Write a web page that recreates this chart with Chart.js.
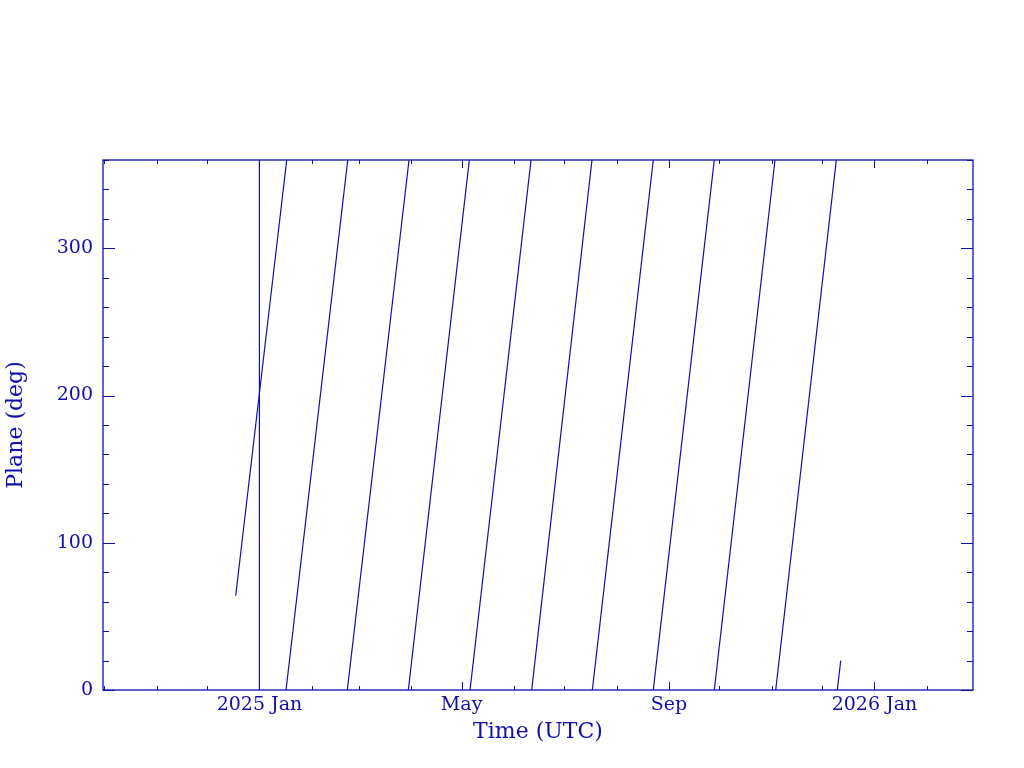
<!DOCTYPE html>
<html>
<head>
<meta charset="utf-8">
<style>
  html, body { margin: 0; padding: 0; background: #fff; }
  #wrap { width: 1024px; height: 768px; }
</style>
<script src="https://cdn.jsdelivr.net/npm/chart.js@4/dist/chart.umd.min.js"></script>
</head>
<body>
<div id="wrap"><canvas id="planeChart" width="1024" height="768"></canvas></div>
<script>
// Axis range and ticks
const xMin = "2024-09-30T04:00:00Z";
const xMax = "2026-02-28T12:00:00Z";
const monthTicks = [
  "2024-10-01", "2024-11-01", "2024-12-01", "2025-01-01", "2025-02-01", "2025-03-01",
  "2025-04-01", "2025-05-01", "2025-06-01", "2025-07-01", "2025-08-01", "2025-09-01",
  "2025-10-01", "2025-11-01", "2025-12-01", "2026-01-01", "2026-02-01"
];
const monthLabels = [
  "", "", "", "2025 Jan", "", "",
  "", "May", "", "", "", "Sep",
  "", "", "", "2026 Jan", ""
];
const yMin = 0;
const yMax = 360;
const yStep = 20;
const yLabelEvery = 100;

// Orbit plane angle, one straight run per wrap (start -> end)
const segStartTimes = [
  "2024-12-17T22:00Z", "2025-01-16T19:00Z", "2025-02-22T04:00Z", "2025-03-30T09:00Z",
  "2025-05-06T00:00Z", "2025-06-11T14:00Z", "2025-07-17T14:00Z", "2025-08-22T18:00Z",
  "2025-09-27T23:00Z", "2025-11-03T10:00Z", "2025-12-09T23:00Z"
];
const segStartDeg = [64, 0, 0, 0, 0, 0, 0, 0, 0, 0, 0];
const segEndTimes = [
  "2025-01-17T05:00Z", "2025-02-22T10:00Z", "2025-03-30T19:00Z", "2025-05-05T14:00Z",
  "2025-06-11T05:00Z", "2025-07-17T09:00Z", "2025-08-22T18:00Z", "2025-09-27T23:00Z",
  "2025-11-03T00:00Z", "2025-12-09T09:00Z", "2025-12-12T00:00Z"
];
const segEndDeg = [360, 360, 360, 360, 360, 360, 360, 360, 360, 360, 20];

// vertical marker
const markerTime = "2025-01-01T00:00Z";
const markerDeg = [0, 360];

const ink = "#1010a8";
const fontFam = "'DejaVu Serif', 'Liberation Serif', serif";

const datasets = segStartTimes.map((t, i) => ({
  data: [
    { x: Date.parse(t), y: segStartDeg[i] },
    { x: Date.parse(segEndTimes[i]), y: segEndDeg[i] }
  ],
  borderColor: ink,
  borderWidth: 1.2,
  pointRadius: 0,
  fill: false,
  tension: 0
}));
datasets.push({
  data: markerDeg.map(v => ({ x: Date.parse(markerTime), y: v })),
  borderColor: ink,
  borderWidth: 1.2,
  pointRadius: 0,
  fill: false
});

// PGPLOT-style frame with inward ticks on all four sides
const frameTicks = {
  id: "frameTicks",
  afterDatasetsDraw(chart) {
    const { ctx, chartArea: a, scales } = chart;
    ctx.save();
    ctx.strokeStyle = ink;
    ctx.lineWidth = 1.3;
    ctx.strokeRect(a.left, a.top, a.right - a.left, a.bottom - a.top);
    ctx.lineWidth = 1;
    ctx.beginPath();
    scales.x.ticks.forEach((t, i) => {
      const px = Math.round(scales.x.getPixelForValue(t.value)) + 0.5;
      const len = monthLabels[i] ? 8 : 4;
      ctx.moveTo(px, a.bottom); ctx.lineTo(px, a.bottom - len);
      ctx.moveTo(px, a.top); ctx.lineTo(px, a.top + len);
    });
    scales.y.ticks.forEach(t => {
      const py = Math.round(scales.y.getPixelForValue(t.value)) + 0.5;
      const len = t.value % yLabelEvery === 0 ? 12 : 6;
      ctx.moveTo(a.left, py); ctx.lineTo(a.left + len, py);
      ctx.moveTo(a.right, py); ctx.lineTo(a.right - len, py);
    });
    ctx.stroke();
    ctx.restore();
  }
};

new Chart(document.getElementById("planeChart"), {
  type: "line",
  data: { datasets },
  options: {
    responsive: false,
    animation: false,
    events: [],
    layout: { padding: { top: 160, right: 51, bottom: 0, left: 0 } },
    plugins: { legend: { display: false }, tooltip: { enabled: false } },
    scales: {
      x: {
        type: "linear",
        min: Date.parse(xMin),
        max: Date.parse(xMax),
        afterBuildTicks: s => { s.ticks = monthTicks.map(d => ({ value: Date.parse(d + "T00:00:00Z") })); },
        afterFit: s => { s.height = 78; },
        grid: { display: false, drawTicks: false },
        border: { display: false },
        ticks: {
          autoSkip: false,
          maxRotation: 0,
          padding: 4,
          color: ink,
          font: { family: fontFam, size: 19 },
          callback: (v, i) => monthLabels[i]
        },
        title: {
          display: true,
          text: "Time (UTC)",
          color: ink,
          font: { family: fontFam, size: 22 },
          padding: { top: 0, bottom: 23 }
        }
      },
      y: {
        min: yMin,
        max: yMax,
        afterFit: s => { s.width = 103; },
        grid: { display: false, drawTicks: false },
        border: { display: false },
        ticks: {
          stepSize: yStep,
          autoSkip: false,
          padding: 10,
          color: ink,
          font: { family: fontFam, size: 19 },
          callback: v => (v % yLabelEvery === 0 ? String(v) : "")
        },
        title: {
          display: true,
          text: "Plane (deg)",
          color: ink,
          font: { family: fontFam, size: 22 },
          padding: { top: 3, bottom: 0 }
        }
      }
    }
  },
  plugins: [frameTicks]
});
</script>
</body>
</html>
